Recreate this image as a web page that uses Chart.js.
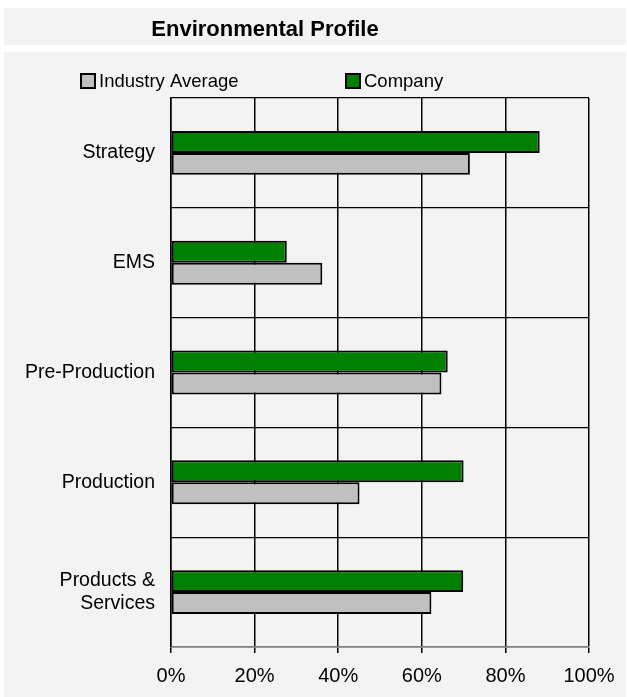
<!DOCTYPE html>
<html>
<head>
<meta charset="utf-8">
<script src="https://cdn.jsdelivr.net/npm/chart.js@4.4.1/dist/chart.umd.min.js"></script>
<style>
    html, body { margin: 0; padding: 0; background: #fff; }
    #wrap { width: 627px; height: 697px; position: relative; }
</style>
</head>
<body>
<div id="wrap"><canvas id="profileChart"></canvas></div>
<script>
    const categories = ['Strategy', 'EMS', 'Pre-Production', 'Production', ['Products &', 'Services']];
    const companyValues = [88.2, 27.7, 66.2, 70.0, 69.9];
    const industryValues = [71.5, 36.2, 64.7, 45.1, 62.3];
    const xTicks = [0, 20, 40, 60, 80, 100];

    const FONT = "'Liberation Sans', Arial, Helvetica, sans-serif";
    const PANEL = '#f3f3f3';

    // gray panels behind everything, plus the title and the legend row
    const framePlugin = {
        id: 'frame',
        beforeDraw(chart) {
            const ctx = chart.ctx;
            ctx.save();
            ctx.fillStyle = '#ffffff';
            ctx.fillRect(0, 0, chart.width, chart.height);
            ctx.fillStyle = PANEL;
            ctx.fillRect(4, 8, chart.width - 5, 37);
            ctx.fillRect(4, 52, chart.width - 5, chart.height - 52);
            ctx.restore();
        },
        afterDraw(chart) {
            const ctx = chart.ctx;
            ctx.save();
            ctx.fillStyle = '#000';
            ctx.font = 'bold 22px ' + FONT;
            ctx.textAlign = 'center';
            ctx.textBaseline = 'alphabetic';
            ctx.fillText('Environmental Profile', 265, 36);

            // legend: Industry Average first, Company second
            const slots = [{ ds: 1, x: 81 }, { ds: 0, x: 346 }];
            ctx.font = '18.5px ' + FONT;
            ctx.textAlign = 'left';
            ctx.textBaseline = 'middle';
            slots.forEach(s => {
                const ds = chart.data.datasets[s.ds];
                ctx.fillStyle = ds.backgroundColor;
                ctx.fillRect(s.x, 74, 14, 14);
                ctx.lineWidth = 2;
                ctx.strokeStyle = '#000';
                ctx.strokeRect(s.x, 74, 14, 14);
                ctx.fillStyle = '#000';
                ctx.fillText(ds.label, s.x + 18, 81.5);
            });
            ctx.restore();
        }
    };

    let chart;

    function renderChart() {
        const data = {
            labels: categories,
            datasets: [{
                    label: 'Company',
                    backgroundColor: '#008000',
                    borderColor: '#000',
                    borderWidth: 2,
                    borderSkipped: false,
                    data: companyValues
                },
                {
                    label: 'Industry Average',
                    backgroundColor: '#c0c0c0',
                    borderColor: '#000',
                    borderWidth: 2,
                    borderSkipped: false,
                    data: industryValues
                }
            ]
        };

        const config = {
            type: 'bar',
            data: data,
            plugins: [framePlugin],
            options: {
                indexAxis: 'y',
                responsive: false,
                animation: false,
                maintainAspectRatio: false,
                categoryPercentage: 0.4,
                barPercentage: 1.0,
                layout: {
                    padding: { top: 98, right: 38, left: 0, bottom: 0 }
                },
                scales: {
                    x: {
                        min: 0,
                        max: 100,
                        afterBuildTicks: function(scale) {
                            scale.ticks = xTicks.map(v => ({ value: v }));
                        },
                        afterFit: function(scale) {
                            scale.height = 50;
                        },
                        grid: {
                            color: '#000',
                            lineWidth: 1.5,
                            tickLength: 6
                        },
                        border: {
                            color: '#808080',
                            width: 1.5
                        },
                        ticks: {
                            padding: 11,
                            color: '#000',
                            font: { family: FONT, size: 20 },
                            callback: function(value) {
                                return value + '%';
                            }
                        }
                    },
                    y: {
                        afterFit: function(scale) {
                            scale.width = 171;
                        },
                        grid: {
                            color: '#000',
                            lineWidth: 1.2,
                            drawTicks: false
                        },
                        border: {
                            color: '#000',
                            width: 1.5
                        },
                        ticks: {
                            padding: 16,
                            color: '#000',
                            font: { family: FONT, size: 19.5, lineHeight: 1.2 }
                        }
                    }
                },
                plugins: {
                    legend: { display: false },
                    title: { display: false },
                    tooltip: { enabled: false }
                }
            }
        };

        if (chart) chart.destroy();
        const canvas = document.getElementById('profileChart');
        canvas.width = 627;
        canvas.height = 697;
        chart = new Chart(canvas.getContext('2d'), config);
    }

    window.onload = function() {
        renderChart();
    };
</script>
</body>
</html>
